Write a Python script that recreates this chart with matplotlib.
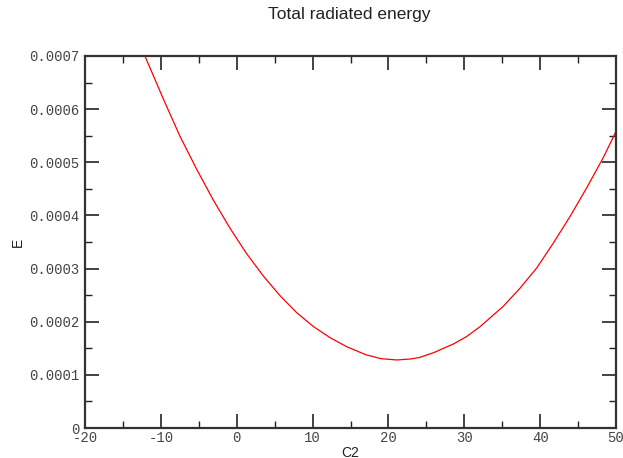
import matplotlib
matplotlib.use("Agg")
import matplotlib.pyplot as plt
from matplotlib.ticker import MultipleLocator, FixedLocator

# Data
c2 = [-12.1, -9.67, -7.48, -5.28, -3.09, -0.89, 1.31, 3.51, 5.71, 7.91, 10.1,
      12.3, 14.5, 17.0, 19.0, 21.1, 23.0, 24.16, 26.0, 28.55, 30.3, 32.07,
      35.14, 37.34, 39.54, 41.74, 43.94, 46.14, 48.33, 50.0]
energy = [7.0e-4, 6.19e-4, 5.49e-4, 4.87e-4, 4.29e-4, 3.76e-4, 3.28e-4, 2.86e-4,
          2.49e-4, 2.17e-4, 1.91e-4, 1.70e-4, 1.53e-4, 1.38e-4, 1.305e-4,
          1.28e-4, 1.30e-4, 1.33e-4, 1.42e-4, 1.58e-4, 1.72e-4, 1.906e-4,
          2.29e-4, 2.63e-4, 3.01e-4, 3.48e-4, 3.98e-4, 4.52e-4, 5.09e-4, 5.58e-4]

x_ticks = [-20, -10, 0, 10, 20, 30, 40, 50]
x_tick_labels = ["-20", "-10", "0", "10", "20", "30", "40", "50"]
y_ticks = [0, 0.0001, 0.0002, 0.0003, 0.0004, 0.0005, 0.0006, 0.0007]
y_tick_labels = ["0", "0.0001", "0.0002", "0.0003", "0.0004", "0.0005", "0.0006", "0.0007"]

fig = plt.figure(figsize=(6.23, 4.58), dpi=100)
ax = fig.add_axes([85/623, 1-428/458, (616-85)/623, (428-56)/458])

ax.plot(c2, energy, color="#ff0000", lw=0.9, clip_on=True)

ax.set_xlim(-20, 50)
ax.set_ylim(0, 0.0007)

mono = "Liberation Mono"
ax.xaxis.set_major_locator(FixedLocator(x_ticks))
ax.set_xticklabels(x_tick_labels, family=mono, fontsize=10, color="#444444")
ax.yaxis.set_major_locator(FixedLocator(y_ticks))
ax.set_yticklabels(y_tick_labels, family=mono, fontsize=10, color="#444444")
ax.xaxis.set_minor_locator(MultipleLocator(5))
ax.yaxis.set_minor_locator(MultipleLocator(0.00005))

ax.tick_params(which="both", direction="in", top=True, right=True, color="#222222")
ax.tick_params(which="major", length=10, width=1.2)
ax.tick_params(which="minor", length=5, width=1.0)
ax.tick_params(axis="x", which="major", pad=2)
ax.tick_params(axis="y", which="major", pad=4)

for s in ax.spines.values():
    s.set_linewidth(1.6)
    s.set_color("#333333")

ax.set_xlabel("C2", family="Liberation Sans", fontsize=10, color="#222222", labelpad=1)
ax.set_ylabel("E", family="Liberation Sans", fontsize=10, color="#222222", labelpad=3)
fig.text(349/623, 1-15/458, "Total radiated energy", family="Liberation Sans",
         fontsize=12.5, color="#222222", ha="center", va="center")

fig.savefig("out.png", dpi=100)
